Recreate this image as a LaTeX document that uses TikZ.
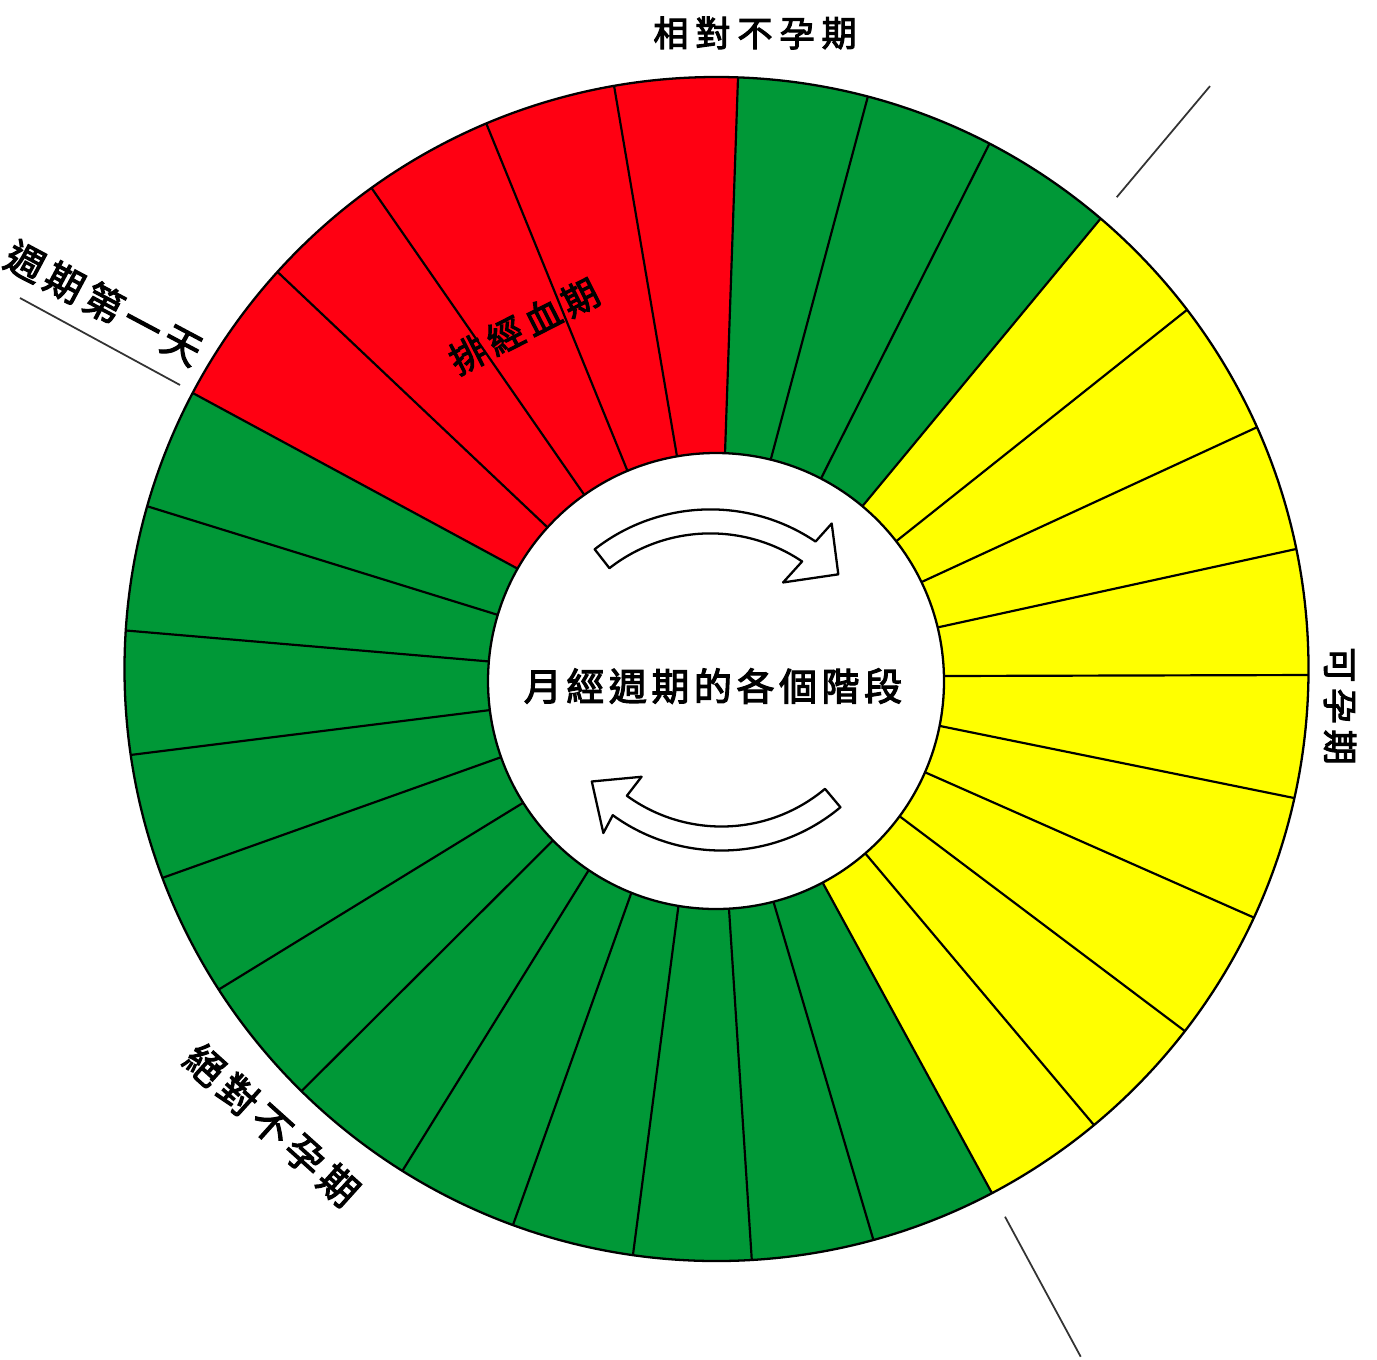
\documentclass[tikz,border=0pt]{standalone}
\usepackage{fontspec}
\newfontfamily\cjk[FakeBold=3]{Noto Sans CJK TC}
\usetikzlibrary{calc}
\definecolor{segred}{RGB}{255,0,18}
\definecolor{seggreen}{RGB}{0,152,55}
\definecolor{segyellow}{RGB}{255,255,0}
\begin{document}
\begin{tikzpicture}[x=0.01cm,y=0.01cm,
  divider/.style={line width=0.62pt, black},
  rim/.style={line width=0.65pt, black},
  tickline/.style={line width=0.5pt, black!80},
  cyclearrow/.style={draw=black, fill=white, line width=0.65pt, line join=round},
  lbl/.style={inner sep=0pt, text=black}]
\path[use as bounding box, fill=white] (0,0) rectangle (1377,1359);
\coordinate (O) at (716.5,690);
\coordinate (I) at (716,678);
\foreach \n/\ox/\oy/\ix/\iy in {
 1/193.3/965.7/516.7/790.8, 2/277.4/1087.2/546.9/832.2, 3/371.6/1170.9/584.3/864.1,
 4/486.4/1235.2/627.4/888.2, 5/614.1/1272.9/677.1/901.9, 6/738.0/1281.6/725.0/905.8,
 7/867.9/1262.6/770.5/898.6, 8/989.0/1214.5/821.1/880.7, 9/1100.1/1139.8/862.5/852.9,
 10/1186.3/1048.6/896.1/817.7, 11/1256.8/931.7/921.8/777.1, 12/1297.0/810.2/937.2/731.5,
 13/1309.5/684.0/941.7/683.0, 14/1294.1/561.0/939.6/633.1, 15/1253.5/441.6/925.1/586.7,
 16/1184.2/328.4/900.2/542.3, 17/1093.0/235.1/865.8/505.0, 18/991.5/166.7/823.5/474.8,
 19/873.3/119.4/773.8/456.1, 20/751.8/98.7/729.0/449.9, 21/632.8/102.9/678.4/452.8,
 22/512.5/132.7/630.7/464.4, 23/402.7/188.7/587.2/486.4, 24/302.3/268.7/551.9/517.5,
 25/219.4/369.9/522.1/555.6, 26/164.3/481.8/499.3/601.2, 27/131.1/604.1/489.7/648.9,
 28/124.9/728.6/489.7/697.5, 29/146.4/853.0/497.2/744.3}
{\coordinate (o\n) at (\ox,\oy); \coordinate (i\n) at (\ix,\iy);}

\begin{scope}
  \clip (O) circle[radius=592];
  \fill[seggreen] (O) circle[radius=592];
  \fill[segred] (I) -- (i1) -- ($(i1)!3!(o1)$) -- ($(i6)!3!(o6)$) -- (i6) -- cycle;
  \fill[segyellow] (I) -- (i9) -- ($(i9)!3!(o9)$) -- ($(i13)!3!(o13)$) -- ($(i18)!3!(o18)$) -- (i18) -- cycle;
  \foreach \n in {1,...,29}
    \draw[divider] ($(i\n)!-0.05!(o\n)$) -- ($(i\n)!1.05!(o\n)$);
\end{scope}
\draw[rim, fill=white] (I) circle[radius=228];
\draw[rim] (O) circle[radius=592];

% boundary ticks
\coordinate (ta1) at (20,1061);   \coordinate (ta2) at (180,974);
\coordinate (tb1) at (1116.7,1161.8); \coordinate (tb2) at (1210,1272.9);
\coordinate (tc1) at (1005,142.3); \coordinate (tc2) at (1080.7,2.3);
\draw[tickline] (ta1) -- (ta2);
\draw[tickline] (tb1) -- (tb2);
\draw[tickline] (tc1) -- (tc2);

% cycle arrows
\coordinate (ct) at (710.4,661.6);
\coordinate (cb) at (721.5,693.5);
\draw[cyclearrow] ($(ct)+(128:188)$) arc[start angle=128, end angle=56, radius=188]
  -- ($(ct)+(55.1:212)$) -- ($(ct)+(43.9:177.5)$) -- ($(ct)+(57.7:136)$)
  -- ($(ct)+(56:164)$) arc[start angle=56, end angle=128, radius=164] -- cycle;
\draw[cyclearrow] ($(cb)+(-50:185)$) arc[start angle=-50, end angle=-126, radius=185]
  -- ($(cb)+(-125.2:205)$) -- ($(cb)+(-138.2:174)$) -- ($(cb)+(-125.7:137)$)
  -- ($(cb)+(-126:161)$) arc[start angle=-126, end angle=-50, radius=161] -- cycle;

% labels
\node[lbl, font=\cjk\fontsize{10pt}{12pt}\selectfont] (ltop) at (755,1326)
  {相\kern1.95pt 對\kern1.95pt 不\kern1.95pt 孕\kern1.95pt 期};
\node[lbl, font=\cjk\fontsize{11pt}{13pt}\selectfont, rotate=-28] (lday) at (104,1056)
  {週\kern1.6pt 期\kern1.6pt 第\kern1.6pt 一\kern1.6pt 天};
\node[lbl, font=\cjk\fontsize{10.3pt}{12pt}\selectfont, rotate=27] (lmens) at (524,1033)
  {排\kern1.65pt 經\kern1.65pt 血\kern1.65pt 期};
\node[lbl, font=\cjk\fontsize{10pt}{12pt}\selectfont, rotate=-90] (lfert) at (1340,653)
  {可\kern1.7pt 孕\kern1.7pt 期};
\node[lbl, font=\cjk\fontsize{11pt}{13pt}\selectfont, rotate=-42] (labs) at (272,234)
  {絕\kern1.8pt 對\kern1.8pt 不\kern1.8pt 孕\kern1.8pt 期};
\node[lbl, font=\cjk\fontsize{10.8pt}{13pt}\selectfont] (lcenter) at (713,673)
  {月\kern1.3pt 經\kern1.3pt 週\kern1.3pt 期\kern1.3pt 的\kern1.3pt 各\kern1.3pt 個\kern1.3pt 階\kern1.3pt 段};
\end{tikzpicture}
\end{document}
